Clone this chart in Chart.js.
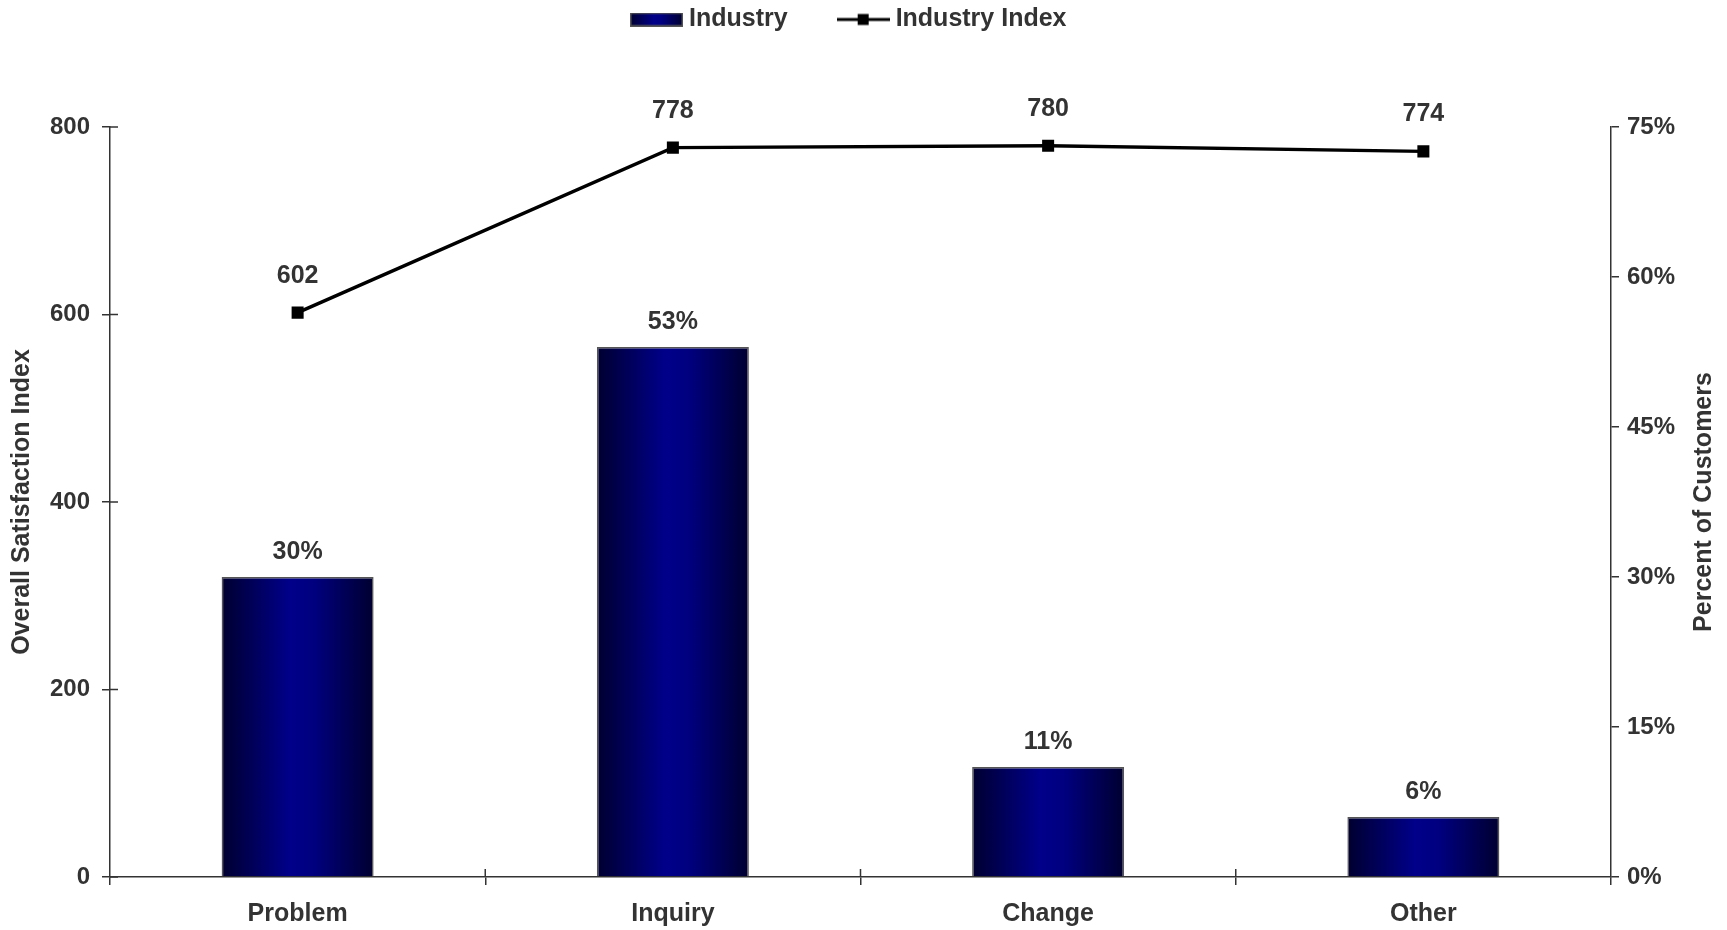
<!DOCTYPE html>
<html><head><meta charset="utf-8">
<script src="https://cdn.jsdelivr.net/npm/chart.js@4.4.1/dist/chart.umd.min.js"></script>
<style>html,body{margin:0;padding:0;background:#fff;overflow:hidden}#wrap{width:1727px;height:930px;position:relative}</style>
</head><body><div id="wrap"><canvas id="c"></canvas></div>
<script>
const categories = ['Problem', 'Inquiry', 'Change', 'Other'];
const percentCustomers = [30, 53, 11, 6];
const industryIndex = [602, 778, 780, 774];
const indexTicks = [0, 200, 400, 600, 800];
const percentTicks = [0, 15, 30, 45, 60, 75];
const seriesNames = ['Industry', 'Industry Index'];
const axisTitles = ['Overall Satisfaction Index', 'Percent of Customers'];

const FONT = "'Liberation Sans', Arial, sans-serif";
const TXT = '#333333';
const AX = '#333333';
const BAR_PCT = 0.405;
const LEG_PAD = 55.5;
const PAD_TOP = 7 - LEG_PAD;
const PAD_LEFT = -24;
const LEGEND_H = 127 - PAD_TOP;

function barGrad(ctx, x0, x1) {
  const g = ctx.createLinearGradient(x0, 0, x1, 0);
  g.addColorStop(0, '#000030');
  g.addColorStop(0.45, '#00008a');
  g.addColorStop(0.6, '#000080');
  g.addColorStop(1, '#000030');
  return g;
}

// legend swatches
const swBar = document.createElement('canvas');
swBar.width = 53; swBar.height = 14;
(function(){ const c = swBar.getContext('2d'); c.fillStyle = barGrad(c, 0, 53); c.fillRect(0,0,53,14); c.strokeStyle='#555'; c.lineWidth=1.5; c.strokeRect(0.75,0.75,51.5,12.5); })();
const swLine = document.createElement('canvas');
swLine.width = 53; swLine.height = 14;
(function(){ const c = swLine.getContext('2d'); c.strokeStyle='#000'; c.lineWidth=3; c.beginPath(); c.moveTo(0,7); c.lineTo(53,7); c.stroke(); c.fillStyle='#000'; c.fillRect(21,1.5,11,11); })();

const legendHeight = {
  id: 'legendHeight',
  beforeLayout(chart) {
    const lg = chart.legend;
    if (lg && !lg.__patched) {
      const f = lg.fit;
      lg.fit = function () { f.call(this); this.height = LEGEND_H; };
      lg.__patched = true;
    }
  }
};

const valueLabels = {
  id: 'valueLabels',
  afterDatasetsDraw(chart) {
    const ctx = chart.ctx;
    ctx.save();
    ctx.font = 'bold 25px ' + FONT;
    ctx.fillStyle = TXT;
    ctx.textAlign = 'center';
    ctx.textBaseline = 'middle';
    chart.data.datasets.forEach((ds, di) => {
      const meta = chart.getDatasetMeta(di);
      meta.data.forEach((el, i) => {
        const isBar = meta.type === 'bar';
        const txt = isBar ? ds.data[i] + '%' : String(ds.data[i]);
        ctx.fillText(txt, el.x, el.y - (isBar ? 25 : 37));
      });
    });
    ctx.restore();
  }
};

// inner half of the tick marks (ticks cross the axis line) + right title reading upward
const axisExtras = {
  id: 'axisExtras',
  afterDatasetsDraw(chart) {
    const ctx = chart.ctx;
    const y = chart.scales.y, x = chart.scales.x, y1 = chart.scales.y1;
    ctx.save();
    ctx.strokeStyle = AX; ctx.lineWidth = 1.5;
    ctx.beginPath();
    y.ticks.forEach(t => { const py = y.getPixelForValue(t.value); ctx.moveTo(y.right, py); ctx.lineTo(y.right + 8, py); });
    for (let i = 1; i < categories.length; i++) {
      const px = (x.getPixelForValue(i - 1) + x.getPixelForValue(i)) / 2;
      ctx.moveTo(px, x.top); ctx.lineTo(px, x.top - 8);
    }
    ctx.stroke();
    ctx.translate(y1.right - 23, (y1.top + y1.bottom) / 2);
    ctx.rotate(-Math.PI / 2);
    ctx.font = 'bold 25px ' + FONT;
    ctx.fillStyle = TXT;
    ctx.textAlign = 'center';
    ctx.textBaseline = 'middle';
    ctx.fillText(axisTitles[1], 0, 0);
    ctx.restore();
  }
};

const tickFont = { family: FONT, size: 24, weight: 'bold' };
const titleFont = { family: FONT, size: 25, weight: 'bold' };

new Chart(document.getElementById('c'), {
  data: {
    labels: categories,
    datasets: [
      { type: 'bar', label: seriesNames[0], data: percentCustomers, yAxisID: 'y1',
        backgroundColor: c => {
          const ch = c.chart, xs = ch.scales.x;
          if (!xs || c.type !== 'data') return '#000080';
          const cx = xs.getPixelForValue(c.dataIndex);
          const w = (xs.width / categories.length) * BAR_PCT;
          if (!isFinite(cx) || !isFinite(w) || w <= 0) return '#000080';
          return barGrad(ch.ctx, cx - w / 2, cx + w / 2);
        },
        borderColor: '#555555', borderWidth: 1.5,
        barPercentage: BAR_PCT, categoryPercentage: 1, order: 1 },
      { type: 'line', label: seriesNames[1], data: industryIndex, yAxisID: 'y',
        borderColor: '#000000', borderWidth: 3.5, backgroundColor: '#000000',
        pointStyle: 'rect', pointRadius: 8.5, pointBackgroundColor: '#000', pointBorderWidth: 0,
        tension: 0, order: 2 }
    ]
  },
  options: {
    responsive: true, maintainAspectRatio: false, animation: false, devicePixelRatio: 1,
    layout: { padding: { top: PAD_TOP, left: PAD_LEFT, right: 0, bottom: 0 } },
    plugins: {
      tooltip: { enabled: false },
      legend: {
        position: 'top', align: 'center',
        labels: {
          usePointStyle: true, pointStyleWidth: 40, boxHeight: 13, padding: LEG_PAD,
          font: { family: FONT, size: 25, weight: 'bold' }, color: TXT,
          generateLabels(chart) {
            const items = Chart.defaults.plugins.legend.labels.generateLabels(chart);
            items.forEach(it => { it.pointStyle = it.datasetIndex === 0 ? swBar : swLine; it.fontColor = TXT; });
            return items;
          }
        }
      }
    },
    scales: {
      x: {
        grid: { display: true, drawOnChartArea: false, drawTicks: true, tickLength: 8, color: AX, lineWidth: 1.5, offset: true },
        border: { display: true, color: AX, width: 1.5 },
        ticks: { font: { family: FONT, size: 25, weight: 'bold' }, color: TXT, padding: 14, maxRotation: 0 },
        afterFit(s) { s.height = 53; }
      },
      y: {
        position: 'left', min: 0, max: 800,
        afterBuildTicks(s) { s.ticks = indexTicks.map(v => ({ value: v })); },
        grid: { display: true, drawOnChartArea: false, drawTicks: true, tickLength: 8, color: AX, lineWidth: 1.5 },
        border: { display: true, color: AX, width: 1.5 },
        ticks: { font: tickFont, color: TXT, padding: 12 },
        title: { display: true, text: axisTitles[0], font: titleFont, color: TXT, padding: { top: 7 - PAD_LEFT, bottom: 0 } },
        afterFit(s) { s.width = 110 - PAD_LEFT; }
      },
      y1: {
        position: 'right', min: 0, max: 75,
        afterBuildTicks(s) { s.ticks = percentTicks.map(v => ({ value: v })); },
        grid: { display: true, drawOnChartArea: false, drawTicks: true, tickLength: 8, color: AX, lineWidth: 1.5 },
        border: { display: true, color: AX, width: 1.5 },
        ticks: { font: tickFont, color: TXT, padding: 8, callback: v => v + '%' },
        afterFit(s) { s.width = 116; }
      }
    }
  },
  plugins: [legendHeight, valueLabels, axisExtras]
});
</script></body></html>
